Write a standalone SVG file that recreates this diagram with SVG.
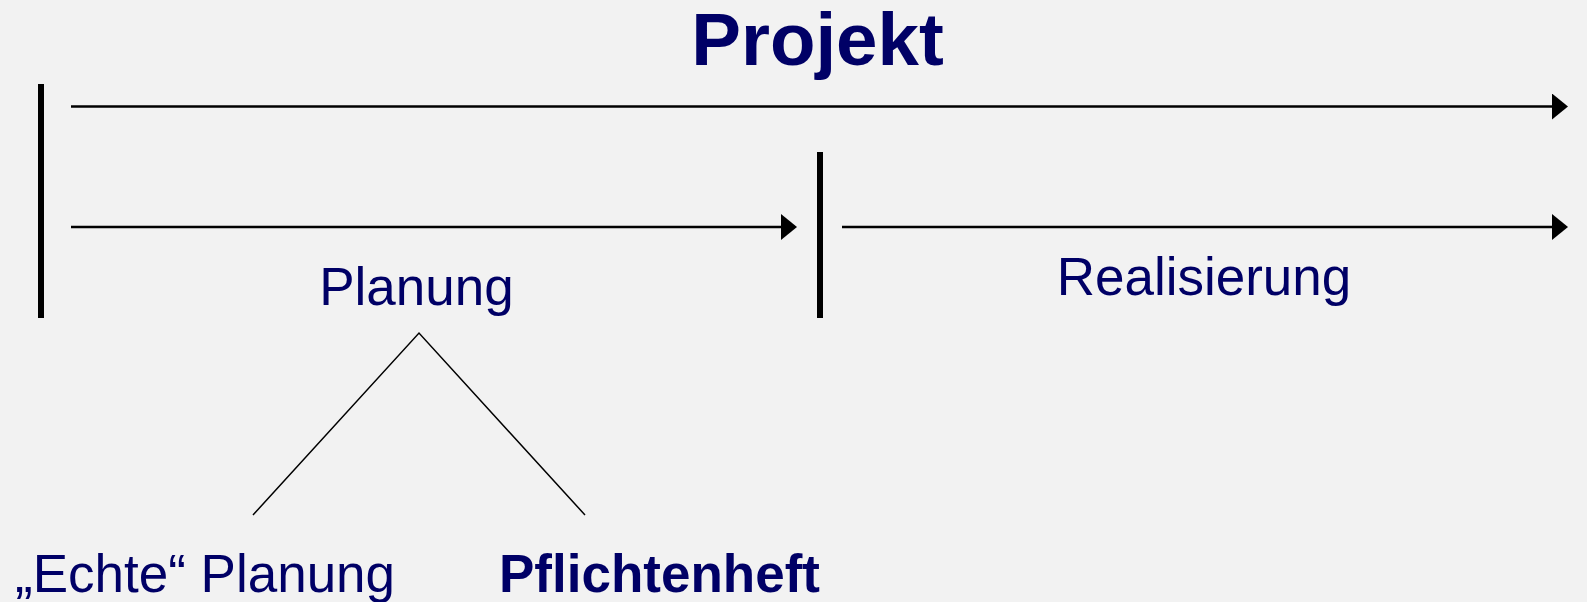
<svg xmlns="http://www.w3.org/2000/svg" width="1587" height="602" viewBox="0 0 1587 602">
  <style>
    .t { font-family: "Liberation Sans", Arial, sans-serif; fill: #000066; }
    .reg { font-size: 53px; }
    .bold { font-weight: bold; }
    .bar { stroke: #000; stroke-width: 6; }
    .arr { stroke: #000; stroke-width: 2.5; fill: none; }
    .tree { stroke: #000; stroke-width: 1.5; fill: none; }
  </style>
  <defs>
    <marker id="head" markerUnits="userSpaceOnUse" markerWidth="17" markerHeight="27" refX="0" refY="13" orient="auto" viewBox="0 0 17 27">
      <path d="M0,0 L16,13 L0,26 Z" fill="#000"/>
    </marker>
  </defs>
  <rect x="0" y="0" width="1587" height="602" fill="#f2f2f2"/>

  <g id="title">
    <text class="t bold" x="817.5" y="65" font-size="74.5" text-anchor="middle">Projekt</text>
  </g>

  <g id="milestones">
    <line id="bar-start" class="bar" x1="41" y1="84" x2="41" y2="318"/>
    <line id="bar-mid" class="bar" x1="820" y1="152" x2="820" y2="318"/>
  </g>

  <g id="connectors">
    <line class="arr" x1="71" y1="106.5" x2="1552" y2="106.5" marker-end="url(#head)"/>
    <line class="arr" x1="71" y1="227" x2="781" y2="227" marker-end="url(#head)"/>
    <line class="arr" x1="842" y1="227" x2="1552" y2="227" marker-end="url(#head)"/>
    <polyline class="tree" points="253,515 419,333 585,515"/>
  </g>

  <g id="planung">
    <text class="t reg" x="416.5" y="305" text-anchor="middle">Planung</text>
  </g>
  <g id="realisierung">
    <text class="t reg" x="1204" y="295" text-anchor="middle">Realisierung</text>
  </g>
  <g id="echte-planung">
    <text class="t reg" x="15" y="592">„Echte“ Planung</text>
  </g>
  <g id="pflichtenheft">
    <text class="t reg bold" x="499" y="592">Pflichtenheft</text>
  </g>
</svg>
